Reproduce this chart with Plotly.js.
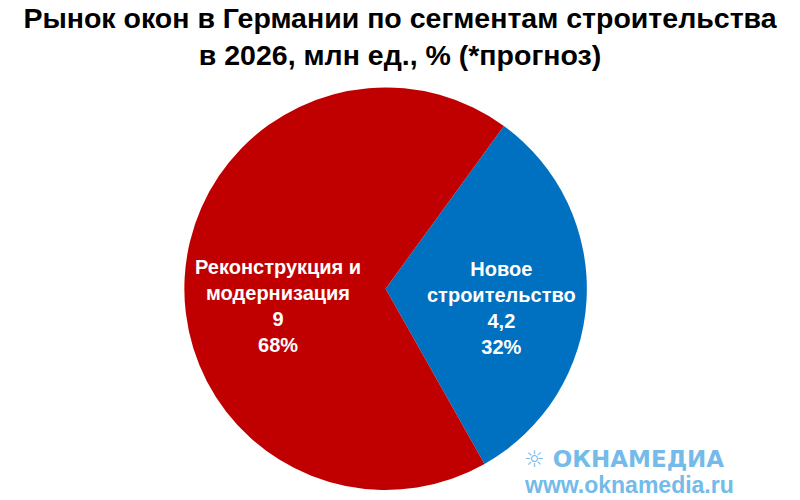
<!DOCTYPE html>
<html><head><meta charset="utf-8">
<script src="https://cdn.plot.ly/plotly-3.0.1.min.js"></script>
<style>html,body{margin:0;padding:0;background:#fff}#c{width:800px;height:500px}</style>
</head><body><div id="c"></div>
<script>
const categories = ["Новое<br>строительство", "Реконструкция и<br>модернизация"];
const values = [4.2, 9];
const colors = ["#0070C0", "#C00000"];
const labelPos = [[0.6275, 0.385], [0.3475, 0.389]];

const total = values.reduce((a, b) => a + b, 0);
const fmt = v => String(v).replace(".", ",");

const data = [{
  type: "pie",
  labels: categories,
  values: values,
  sort: false,
  direction: "clockwise",
  rotation: 36,
  marker: {colors: colors, line: {width: 0}},
  textinfo: "none",
  hoverinfo: "none",
  showlegend: false,
  domain: {x: [0.23, 0.734], y: [0.02, 0.825]}
}];

const annotations = categories.map((c, i) => ({
  text: c + "<br>" + fmt(values[i]) + "<br>" + Math.round(values[i] / total * 100) + "%",
  xref: "paper", yref: "paper", x: labelPos[i][0], y: labelPos[i][1],
  xanchor: "center", yanchor: "middle", showarrow: false, align: "center",
  font: {family: "Liberation Sans, Arial, sans-serif", size: 20, color: "#ffffff", weight: "bold"}
}));
annotations.push(
  {text: "☼ ОКНАМЕДИА", xref: "paper", yref: "paper", x: 0.908, y: 0.082, xanchor: "right", yanchor: "middle", showarrow: false,
   font: {family: "DejaVu Sans, sans-serif", size: 23, color: "#74BBE9", weight: "bold"}},
  {text: "www.oknamedia.ru", xref: "paper", yref: "paper", x: 0.92, y: 0.03, xanchor: "right", yanchor: "middle", showarrow: false,
   font: {family: "Liberation Sans, Arial, sans-serif", size: 23, color: "#74BBE9", weight: "bold"}}
);

const layout = {
  width: 800, height: 500,
  margin: {l: 0, r: 0, t: 0, b: 0},
  paper_bgcolor: "#ffffff",
  title: {
    text: "Рынок окон в Германии по сегментам строительства<br>в 2026, млн ед., % (*прогноз)",
    font: {family: "Liberation Sans, Arial, sans-serif", size: 28.5, color: "#000000", weight: "bold"},
    x: 0.5, xanchor: "center", yref: "container", y: 0.945, yanchor: "top"
  },
  annotations: annotations
};
Plotly.newPlot("c", data, layout, {displayModeBar: false, staticPlot: true});
</script></body></html>
